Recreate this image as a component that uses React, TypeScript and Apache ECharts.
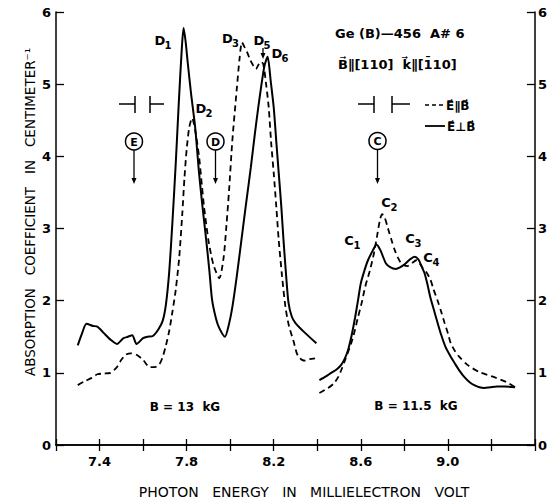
import React, { useEffect, useRef } from 'react';
import * as echarts from 'echarts';

// E ⊥ B (solid), B = 13 kG region
const perpLow: [number, number][] = [
  [7.30, 1.38], [7.32, 1.55], [7.34, 1.68], [7.37, 1.65], [7.39, 1.64], [7.42, 1.55],
  [7.45, 1.46], [7.48, 1.40], [7.51, 1.48], [7.53, 1.50], [7.55, 1.52], [7.57, 1.40],
  [7.60, 1.48], [7.62, 1.50], [7.645, 1.51], [7.67, 1.60], [7.69, 1.72], [7.705, 1.95],
  [7.72, 2.40], [7.735, 3.10], [7.75, 3.90], [7.765, 4.80], [7.778, 5.50], [7.786, 5.78],
  [7.795, 5.60], [7.805, 5.30], [7.82, 4.88], [7.839, 4.41], [7.857, 3.77], [7.873, 3.30],
  [7.89, 2.84], [7.905, 2.40], [7.917, 2.01], [7.935, 1.75], [7.95, 1.62], [7.976, 1.50],
  [7.995, 1.68], [8.01, 1.91], [8.03, 2.33], [8.05, 2.80], [8.072, 3.32], [8.095, 3.85],
  [8.113, 4.30], [8.13, 4.70], [8.145, 5.02], [8.158, 5.26], [8.172, 5.38], [8.186, 5.05],
  [8.20, 4.68], [8.212, 4.20], [8.223, 3.77], [8.235, 3.30], [8.245, 2.84], [8.257, 2.35],
  [8.268, 1.97], [8.283, 1.78], [8.30, 1.69], [8.345, 1.55], [8.396, 1.41],
];

// E ⊥ B (solid), B = 11.5 kG region
const perpHigh: [number, number][] = [
  [8.41, 0.90], [8.44, 0.95], [8.464, 1.00], [8.49, 1.05], [8.51, 1.11], [8.527, 1.20],
  [8.542, 1.32], [8.558, 1.52], [8.574, 1.77], [8.587, 2.00], [8.60, 2.24], [8.617, 2.42],
  [8.633, 2.56], [8.656, 2.70], [8.672, 2.78], [8.69, 2.70], [8.715, 2.52], [8.737, 2.46],
  [8.76, 2.44], [8.78, 2.46], [8.80, 2.50], [8.825, 2.57], [8.847, 2.61], [8.865, 2.57],
  [8.88, 2.47], [8.893, 2.38], [8.905, 2.24], [8.92, 2.04], [8.937, 1.86], [8.953, 1.69],
  [8.97, 1.52], [8.989, 1.36], [9.01, 1.24], [9.03, 1.14], [9.053, 1.03], [9.076, 0.94],
  [9.10, 0.87], [9.121, 0.83], [9.145, 0.80], [9.167, 0.79], [9.195, 0.80], [9.226, 0.81],
  [9.26, 0.81], [9.309, 0.80],
];

// E ∥ B (dashed), B = 13 kG region
const parLow: [number, number][] = [
  [7.30, 0.83], [7.33, 0.88], [7.364, 0.93], [7.39, 0.98], [7.42, 0.99], [7.45, 1.00],
  [7.48, 1.08], [7.50, 1.18], [7.52, 1.25], [7.545, 1.27], [7.57, 1.25], [7.60, 1.18],
  [7.63, 1.08], [7.655, 1.08], [7.675, 1.12], [7.69, 1.22], [7.705, 1.38], [7.72, 1.58],
  [7.735, 1.85], [7.75, 2.15], [7.766, 2.60], [7.78, 3.20], [7.79, 3.70], [7.80, 4.09],
  [7.812, 4.40], [7.825, 4.53], [7.84, 4.35], [7.857, 4.00], [7.87, 3.60], [7.88, 3.30],
  [7.90, 2.84], [7.915, 2.60], [7.926, 2.47], [7.95, 2.31], [7.97, 2.60], [7.983, 3.05],
  [7.995, 3.53], [8.01, 4.22], [8.03, 4.92], [8.043, 5.35], [8.054, 5.58], [8.065, 5.52],
  [8.077, 5.45], [8.09, 5.35], [8.10, 5.29], [8.118, 5.21], [8.13, 5.27], [8.14, 5.31],
  [8.152, 5.28], [8.165, 5.00], [8.177, 4.68], [8.188, 4.20], [8.20, 3.77], [8.212, 3.30],
  [8.223, 2.84], [8.238, 2.35], [8.254, 1.91], [8.27, 1.65], [8.29, 1.45], [8.305, 1.28],
  [8.315, 1.22], [8.33, 1.18], [8.345, 1.17], [8.365, 1.19], [8.39, 1.20],
];

// E ∥ B (dashed), B = 11.5 kG region
const parHigh: [number, number][] = [
  [8.41, 0.72], [8.45, 0.79], [8.475, 0.85], [8.496, 0.94], [8.512, 1.05], [8.528, 1.18],
  [8.556, 1.41], [8.572, 1.58], [8.587, 1.77], [8.605, 1.98], [8.62, 2.19], [8.642, 2.42],
  [8.66, 2.65], [8.675, 2.90], [8.688, 3.12], [8.698, 3.20], [8.71, 3.15], [8.725, 3.00],
  [8.74, 2.85], [8.756, 2.70], [8.77, 2.60], [8.785, 2.52], [8.80, 2.49], [8.815, 2.48],
  [8.835, 2.52], [8.855, 2.56], [8.87, 2.52], [8.885, 2.45], [8.90, 2.40], [8.92, 2.29],
  [8.935, 2.15], [8.953, 2.00], [8.97, 1.84], [8.985, 1.69], [9.0, 1.55], [9.013, 1.41],
  [9.033, 1.30], [9.053, 1.22], [9.09, 1.11], [9.145, 1.01], [9.213, 0.94], [9.27, 0.87],
  [9.309, 0.80],
];

const xTickLabels = ['7.4', '7.8', '8.2', '8.6', '9.0'];

const FONT = '"DejaVu Sans", sans-serif';

export default function App() {
  const ref = useRef<HTMLDivElement>(null);

  useEffect(() => {
    document.body.style.margin = '0';
    const chart = echarts.init(ref.current!, null, { renderer: 'svg' });

    const txt = (x: number, y: number, text: string, size: number, weight = 'bold', align = 'center', extra: any = {}) => ({
      type: 'text',
      x,
      y,
      ...extra,
      style: {
        text,
        fontSize: size,
        fontWeight: weight,
        fontFamily: FONT,
        fill: '#000',
        align,
        textAlign: align,
        verticalAlign: 'middle',
        textVerticalAlign: 'middle',
      },
    });
    const ln = (x1: number, y1: number, x2: number, y2: number, w = 1.5, dash?: number[]) => ({
      type: 'line',
      shape: { x1, y1, x2, y2 },
      style: { stroke: '#000', lineWidth: w, lineDash: dash },
    });
    const arrow = (x: number, y1: number, y2: number) => [
      ln(x, y1, x, y2 - 4, 1.3),
      { type: 'polygon', shape: { points: [[x - 2.5, y2 - 6], [x + 2.5, y2 - 6], [x, y2]] }, style: { fill: '#000' } },
    ];
    const circ = (cx: number, cy: number, letter: string) => [
      { type: 'circle', shape: { cx, cy, r: 8.5 }, style: { fill: '#fff', stroke: '#000', lineWidth: 1.5 } },
      txt(cx, cy + 0.5, letter, 11, 'bold'),
    ];
    const sub = (x: number, y: number, main: string, s: string) => [
      txt(x, y, main, 13, 'bold'),
      txt(x + 8, y + 5, s, 10, 'bold'),
    ];

    const V = '\u20D7';
    const graphics: any[] = [
      // axis titles
      txt(304, 492, 'PHOTON   ENERGY   IN   MILLIELECTRON   VOLT', 14, 'normal'),
      txt(30, 212, 'ABSORPTION   COEFFICIENT   IN   CENTIMETER\u207B\u00B9', 13.5, 'normal', 'center', { rotation: Math.PI / 2 }),
      // sample title
      txt(335, 33, 'Ge (B)\u2014456  A# 6', 13, 'bold', 'left'),
      txt(338, 64, 'B' + V + '\u2225[110]  k' + V + '\u2225[1\u030410]', 13, 'bold', 'left'),
      // legend
      ln(425, 105, 443, 105, 1.6, [4, 3]),
      txt(446, 106, 'E' + V + '\u2225B' + V, 12, 'bold', 'left'),
      ln(425, 126, 445, 126, 1.8),
      txt(447, 127, 'E' + V + '\u22A5B' + V, 12, 'bold', 'left'),
      // polarizer symbols
      ln(119, 104, 135, 104), ln(135, 96, 135, 113), ln(150, 96, 150, 113), ln(150, 104, 164, 104),
      ln(358, 104, 374, 104), ln(374, 96, 374, 113), ln(392, 96, 392, 113), ln(392, 104, 410, 104),
      // circled markers with arrows
      ...circ(134, 141.5, 'E'), ...arrow(134, 150, 184),
      ...circ(215.5, 141.5, 'D'), ...arrow(215.5, 150, 184),
      ...circ(377.5, 141, 'C'), ...arrow(377.5, 149.5, 184),
      // peak labels
      ...sub(160, 40, 'D', '1'),
      ...sub(201, 108, 'D', '2'),
      ...sub(227.5, 38, 'D', '3'),
      ...sub(259, 40, 'D', '5'),
      ...arrow(263, 48, 59),
      ...sub(277, 53, 'D', '6'),
      ...sub(349, 240, 'C', '1'),
      ...sub(386, 202, 'C', '2'),
      ...sub(410, 238, 'C', '3'),
      ...sub(428, 257, 'C', '4'),
      // field labels
      txt(185, 407, 'B = 13  kG', 12, 'bold'),
      txt(416, 406, 'B = 11.5  kG', 12, 'bold'),
    ];

    const axisCommon = {
      type: 'value' as const,
      axisLine: { show: true, lineStyle: { color: '#000', width: 1.5 } },
      splitLine: { show: false },
    };

    chart.setOption({
      animation: false,
      grid: { left: 56, right: 12, top: 12, bottom: 57 },
      xAxis: [
        {
          ...axisCommon,
          min: 7.2,
          max: 9.4,
          interval: 0.2,
          position: 'bottom',
          axisTick: { inside: true, length: 6, lineStyle: { color: '#000', width: 1.3 } },
          axisLabel: {
            formatter: (v: number) => {
              const s = v.toFixed(1);
              return xTickLabels.includes(s) ? s : '';
            },
            color: '#000',
            fontSize: 13,
            fontWeight: 'bold',
            fontFamily: FONT,
            margin: 10,
          },
        },
        {
          ...axisCommon,
          min: 7.2,
          max: 9.4,
          interval: 0.2,
          position: 'top',
          axisTick: { inside: true, length: 6, lineStyle: { color: '#000', width: 1.3 } },
          axisLabel: { show: false },
        },
      ],
      yAxis: [
        {
          ...axisCommon,
          min: 0,
          max: 6,
          interval: 1,
          position: 'left',
          axisTick: { inside: true, length: 8, lineStyle: { color: '#000', width: 1.3 } },
          axisLabel: { color: '#000', fontSize: 13, fontWeight: 'bold', fontFamily: FONT, margin: 5 },
        },
        {
          ...axisCommon,
          min: 0,
          max: 6,
          interval: 1,
          position: 'right',
          axisTick: { inside: true, length: 8, lineStyle: { color: '#000', width: 1.3 } },
          axisLabel: { color: '#000', fontSize: 13, fontWeight: 'bold', fontFamily: FONT, margin: 3 },
        },
      ],
      series: [
        { name: 'E\u22A5B low', data: perpLow, lineStyle: { color: '#000', width: 2 } },
        { name: 'E\u22A5B high', data: perpHigh, lineStyle: { color: '#000', width: 2 } },
        { name: 'E\u2225B low', data: parLow, lineStyle: { color: '#000', width: 1.8, type: [6, 4] } },
        { name: 'E\u2225B high', data: parHigh, lineStyle: { color: '#000', width: 1.8, type: [6, 4] } },
      ].map((s) => ({
        ...s,
        type: 'line',
        xAxisIndex: 0,
        yAxisIndex: 0,
        showSymbol: false,
        symbol: 'none',
        smooth: 0.25,
      })),
      graphic: { elements: graphics },
    });

    return () => chart.dispose();
  }, []);

  return <div ref={ref} style={{ position: 'absolute', left: 0, top: 0, width: 550, height: 502 }} />;
}
